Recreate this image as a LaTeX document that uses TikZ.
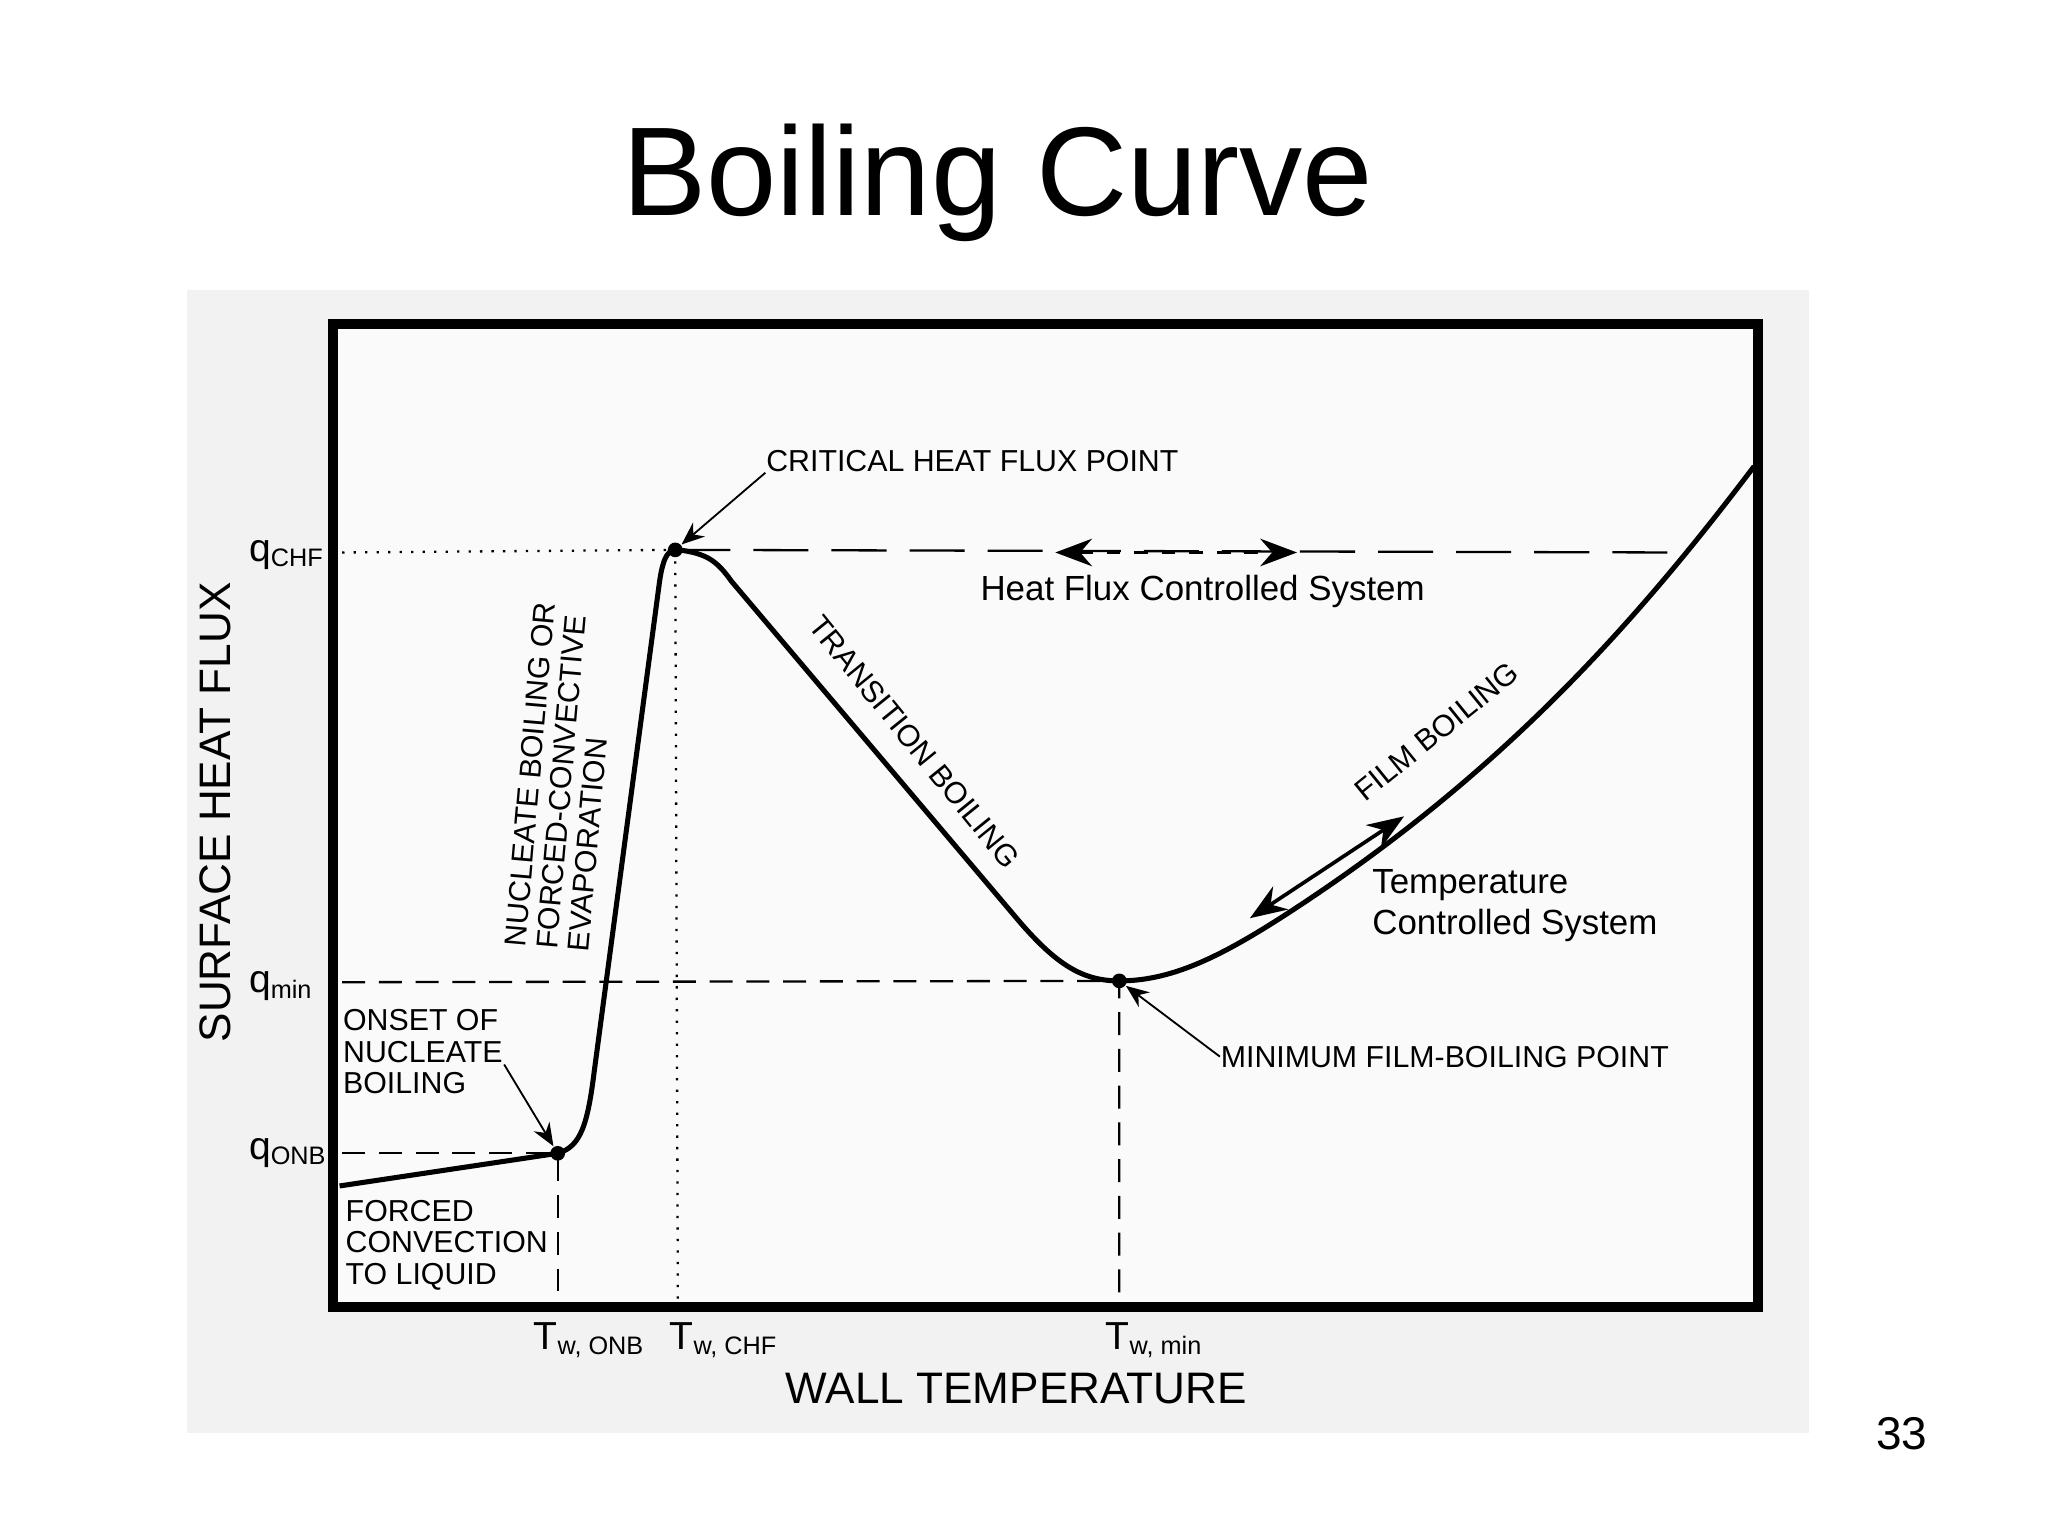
\documentclass[tikz,border=0pt]{standalone}
\usepackage{fontspec}
\setmainfont{Liberation Sans}
\usetikzlibrary{arrows.meta}
\begin{document}
\begin{tikzpicture}[x=0.01cm,y=-0.01cm,
  lab/.style={font=\fontsize{6.6}{6.9}\selectfont,align=left,inner sep=0pt},
  big/.style={font=\fontsize{9.6}{11}\selectfont,inner sep=0pt},
  sys/.style={font=\fontsize{7.6}{8.9}\selectfont,align=left,inner sep=0pt},
  dotp/.style={circle,fill=black,inner sep=0pt,minimum size=3.2pt},
  guide/.style={line width=0.5pt,dash pattern=on 5pt off 3pt},
  dotg/.style={line width=0.5pt,dotted},
  ptr/.style={line width=0.4pt,-{Stealth[length=5pt,width=4pt]}},
  ax/.style={font=\fontsize{8.5}{10}\selectfont,inner sep=0pt}]
\useasboundingbox (0,0) rectangle (1568,1176);
\fill[white] (0,0) rectangle (1568,1176);
\fill[black!5] (143,222) rectangle (1385,1097);
\fill[white!98!black] (255,248) rectangle (1346,1001);
\node[font=\fontsize{27.5}{30}\selectfont,inner sep=0pt] (title) at (764,140) {Boiling Curve};
\node[font=\fontsize{10}{12}\selectfont,inner sep=0pt] (pg) at (1456,1098) {33};
% points
\node[dotp] (onb) at (427,883) {};
\node[dotp] (chf) at (517,421) {};
\node[dotp] (qm) at (857,751) {};
% guide lines
\coordinate (qchfL) at (262,423);
\coordinate (qchfR) at (1285,423);
\coordinate (tchf) at (519,1000);
\coordinate (qminL) at (262,752);
\coordinate (tmin) at (857,1000);
\coordinate (qonbL) at (262,883);
\coordinate (tonb) at (427,1000);
\draw[dotg] (qchfL) -- (chf.center);
\draw[line width=0.5pt,dash pattern=on 12pt off 5pt] (chf.center) -- (qchfR);
\draw[dotg] (chf.center) -- (tchf);
\draw[guide] (qminL) -- (qm.center) -- (tmin);
\draw[guide] (qonbL) -- (onb.center) -- (tonb);
% curve
\draw[line width=1.1pt,line join=round] (260,908) -- (427,883)
  .. controls (445,878) and (450,860) .. (455,820)
  -- (505,445) .. controls (508,425) and (512,420) .. (520,421)
  .. controls (540,424) and (548,428) .. (560,445)
  -- (780,705) .. controls (810,740) and (830,751) .. (857,751)
  .. controls (900,751) and (940,730) .. (1000,690)
  .. controls (1150,590) and (1250,480) .. (1343,357);
% frame
\draw[line width=2.2pt] (255,248) rectangle (1346,1001);
% labels
\node[lab,anchor=west] (chfl) at (586,353) {CRITICAL HEAT FLUX POINT};
\draw[ptr] (chfl.south west) -- (chf);
\node[lab,anchor=north west] (onbl) at (262,772) {ONSET OF\\NUCLEATE\\BOILING};
\draw[ptr] (386,815) -- (onb);
\node[lab,anchor=west] (minl) at (934,809) {MINIMUM FILM-BOILING POINT};
\draw[ptr] (minl.west) -- (qm);
\node[lab,anchor=north west] (fcl) at (264,918) {FORCED\\CONVECTION\\TO LIQUID};
\node[lab,rotate=85,align=left] (nbl) at (430,595) {NUCLEATE BOILING OR\\FORCED-CONVECTIVE\\EVAPORATION};
\node[lab,rotate=-51] (trl) at (700,568) {TRANSITION BOILING};
\node[lab,rotate=39] (fbl) at (1100,560) {FILM BOILING};
\node[sys,anchor=west] (hfc) at (750,453) {Heat Flux Controlled System};
\node[sys,anchor=north west] (tcs) at (1050,665) {Temperature\\Controlled System};
\coordinate (a1) at (808,423); \coordinate (a2) at (993,423);
\draw[line width=0.6pt,dashed,{Stealth[length=8pt,width=6pt]}-{Stealth[length=8pt,width=6pt]}] (a1) -- (a2);
\coordinate (b1) at (1075,625); \coordinate (b2) at (957,703);
\draw[line width=0.8pt,{Stealth[length=8pt,width=6pt]}-{Stealth[length=8pt,width=6pt]}] (b1) -- (b2);
% axes
\node[big,rotate=90] (yl) at (165,622) {SURFACE HEAT FLUX};
\node[big] (xl) at (778,1063) {WALL TEMPERATURE};
\node[ax,anchor=west] (q1) at (190,425) {q\textsubscript{\fontsize{5.5}{6}\selectfont CHF}};
\node[ax,anchor=west] (q2) at (190,755) {q\textsubscript{\fontsize{5.5}{6}\selectfont min}};
\node[ax,anchor=west] (q3) at (190,883) {q\textsubscript{\fontsize{5.5}{6}\selectfont ONB}};
\node[ax,anchor=west] (t1) at (408,1026) {T\textsubscript{\fontsize{5.5}{6}\selectfont w, ONB}};
\node[ax,anchor=west] (t2) at (512,1026) {T\textsubscript{\fontsize{5.5}{6}\selectfont w, CHF}};
\node[ax,anchor=west] (t3) at (846,1026) {T\textsubscript{\fontsize{5.5}{6}\selectfont w, min}};
\end{tikzpicture}
\end{document}
